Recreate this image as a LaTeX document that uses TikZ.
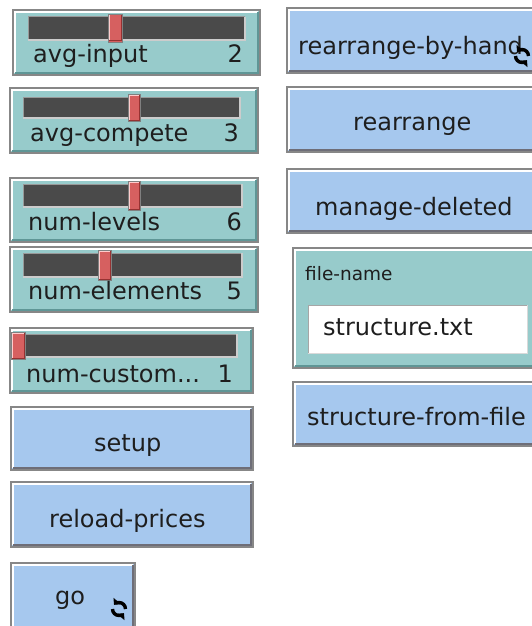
\documentclass[tikz,border=0pt]{standalone}
\usepackage{fontspec}
\setmainfont{DejaVu Sans}
\usetikzlibrary{arrows.meta}
\definecolor{sliderbg}{RGB}{151,203,203}
\definecolor{buttonbg}{RGB}{166,200,238}
\definecolor{trackc}{RGB}{74,74,74}
\definecolor{knobc}{RGB}{214,96,96}
\definecolor{knobd}{RGB}{150,50,50}
\definecolor{outerc}{RGB}{135,135,135}
\definecolor{sldark}{RGB}{95,150,150}
\definecolor{btdark}{RGB}{110,110,120}
\definecolor{txtc}{RGB}{30,30,30}
\tikzset{
  lbl/.style={inner sep=0pt, anchor=base west, text=txtc, font=\fontsize{24}{28}\selectfont},
  val/.style={inner sep=0pt, anchor=base east, text=txtc, font=\fontsize{24}{28}\selectfont},
  small/.style={inner sep=0pt, anchor=base west, text=txtc, font=\fontsize{18.5}{22}\selectfont},
  outerb/.style={draw=outerc, line width=1.4pt},
  hil/.style={draw=white, line width=1.6pt},
  iconline/.style={line width=3.4pt, black, -{Triangle[length=5pt,width=9.5pt]}},
}
\newcommand\nlbox[6]{% fill, dark, x1,y1,x2,y2
  \fill[#1] (#3,#4) rectangle (#5,#6);
  \draw[hil] (#3+2,#6-2) -- (#3+2,#4+2) -- (#5-2,#4+2);
  \draw[draw=#2, line width=1.6pt] (#3+2,#6-2) -- (#5-2,#6-2) -- (#5-2,#4+2);
  \draw[outerb] (#3,#4) rectangle (#5,#6);
}
\newcommand\nltrack[8]{% x1,y1,x2,y2 track ; k1,ky1,k2,ky2 knob
  \fill[trackc] (#1,#2) rectangle (#3,#4);
  \draw[draw=gray!80, line width=1pt] (#1,#4) -- (#1,#2) -- (#3,#2);
  \draw[draw=gray!40, line width=1.2pt] (#1,#4) -- (#3,#4) -- (#3,#2);
  \fill[knobc] (#5,#6) rectangle (#7,#8);
  \draw[draw=red!20!white, line width=1pt] (#5+1,#8-1) -- (#5+1,#6+1) -- (#7-1,#6+1);
  \draw[draw=knobd, line width=1pt] (#5+1,#8-1) -- (#7-1,#8-1) -- (#7-1,#6+1);
  \draw[draw=gray, line width=0.8pt] (#5,#6) rectangle (#7,#8);
}
\newcommand\nlicon[2]{% center
  \draw[iconline] (#1+6.5,#2) arc[start angle=0,end angle=-140,radius=6.5];
  \draw[iconline] (#1-6.5,#2) arc[start angle=180,end angle=40,radius=6.5];
}
\begin{document}
\begin{tikzpicture}[x=1pt,y=-1pt]
\useasboundingbox (0,0) rectangle (532,626);
\clip (0,0) rectangle (532,626);
\fill[white] (0,0) rectangle (532,626);

% sliders
\nlbox{sliderbg}{sldark}{13}{10}{260}{75}
\nltrack{28}{17}{245}{40}{108}{14}{122}{42}
\node[lbl] (s1) at (33,63) {avg-input};
\node[val] (v1) at (243,63) {2};

\nlbox{sliderbg}{sldark}{10}{88}{258}{153}
\nltrack{23}{97}{240}{118}{128}{94}{140}{121}
\node[lbl] (s2) at (30,141) {avg-compete};
\node[val] (v2) at (239,141) {3};

\nlbox{sliderbg}{sldark}{10}{178}{258}{242}
\nltrack{23}{184}{242}{207}{128}{181}{140}{210}
\node[lbl] (s3) at (28,230) {num-levels};
\node[val] (v3) at (242,230) {6};

\nlbox{sliderbg}{sldark}{10}{247}{258}{312}
\nltrack{23}{253}{242}{277}{98}{250}{111}{280}
\node[lbl] (s4) at (28,299) {num-elements};
\node[val] (v4) at (242,299) {5};

\nlbox{sliderbg}{sldark}{10}{328}{253}{393}
\nltrack{12}{334}{237}{357}{11}{332}{25}{359}
\node[lbl] (s5) at (26,382) {num-custom...};
\node[val] (v5) at (233,382) {1};

% buttons left
\nlbox{buttonbg}{btdark}{11}{407}{253}{470}
\node[lbl] (b1) at (94,451) {setup};

\nlbox{buttonbg}{btdark}{11}{482}{253}{547}
\node[lbl] (b2) at (49,527) {reload-prices};

\nlbox{buttonbg}{btdark}{11}{563}{135}{640}
\node[lbl] (b3) at (55,604) {go};
\nlicon{119}{609}

% right column
\nlbox{buttonbg}{btdark}{287}{8}{560}{73}
\node[lbl] (b4) at (298,55) {rearrange-by-hand};
\nlicon{522}{56}

\nlbox{buttonbg}{btdark}{287}{87}{560}{152}
\node[lbl] (b5) at (353,130) {rearrange};

\nlbox{buttonbg}{btdark}{287}{169}{560}{233}
\node[lbl] (b6) at (315,215) {manage-deleted};

\nlbox{sliderbg}{sldark}{293}{248}{560}{368}
\node[small] (f1) at (305,280) {file-name};
\fill[white] (308,305) rectangle (527,353);
\draw[draw=gray!70, line width=1pt] (308,353) -- (308,305) -- (527,305);
\draw[draw=gray!30, line width=1pt] (308,353) -- (527,353) -- (527,305);
\node[lbl] (f2) at (323,335) {structure.txt};

\nlbox{buttonbg}{btdark}{293}{382}{560}{446}
\node[lbl] (b7) at (307,425) {structure-from-file};
\end{tikzpicture}
\end{document}
